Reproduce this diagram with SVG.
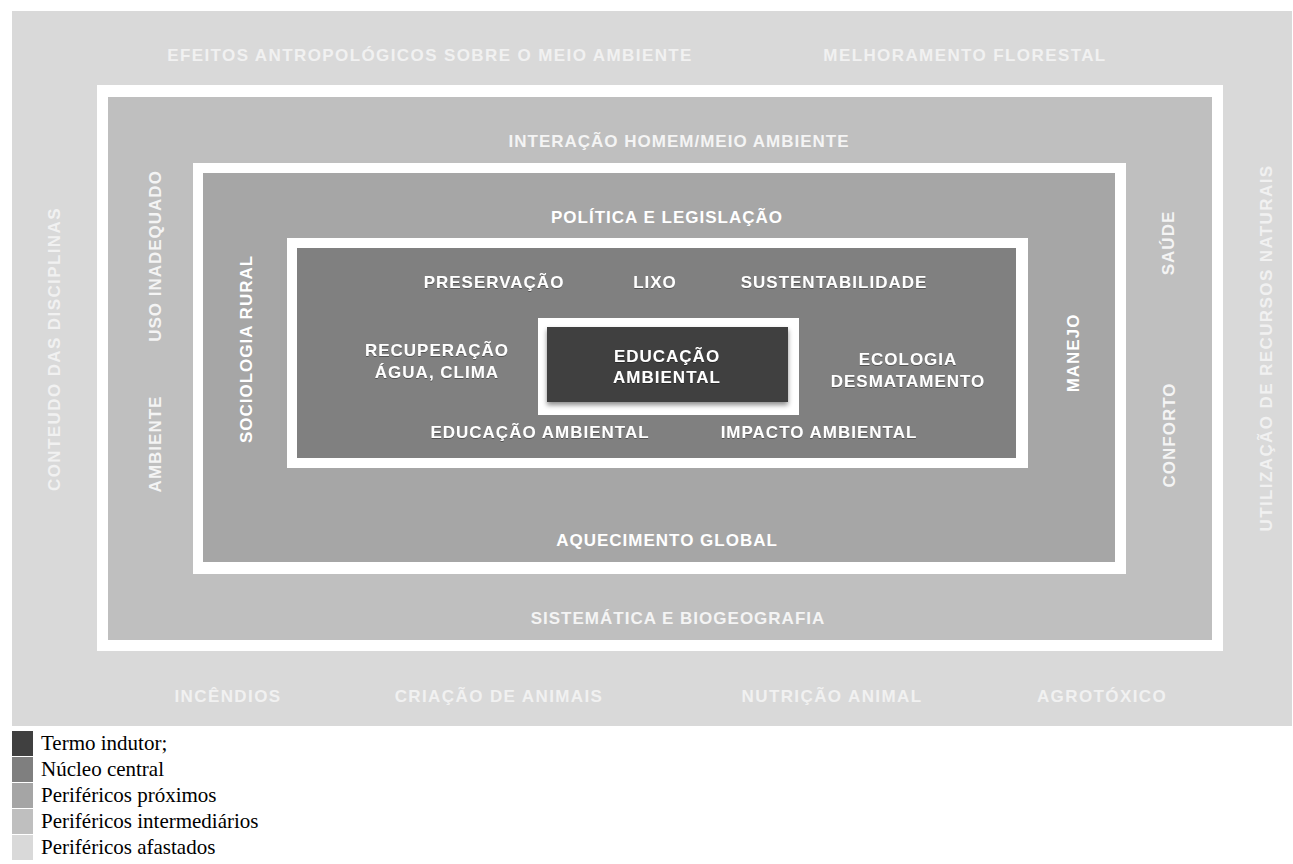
<svg xmlns="http://www.w3.org/2000/svg" width="1293" height="864" viewBox="0 0 1293 864">
  <defs>
    <style>
      .lbl { font-family: "Liberation Sans", Arial, sans-serif; font-weight: bold; font-size: 17px; letter-spacing: 1px; text-anchor: middle; }
      .far { fill: #f1f1f1; letter-spacing: 1.4px; }
      .mid { fill: #f4f4f4; }
      .near { fill: #ffffff; }
      .core { fill: #ffffff; }
      .leg { font-family: "Liberation Serif", "Times New Roman", serif; font-size: 21px; fill: #000000; }
    </style>
    <filter id="txtShadow" x="-10%" y="-30%" width="120%" height="160%">
      <feDropShadow dx="0" dy="1" stdDeviation="0.7" flood-color="#000000" flood-opacity="0.35"/>
    </filter>
    <filter id="boxShadow" x="-10%" y="-20%" width="120%" height="150%">
      <feDropShadow dx="0" dy="3" stdDeviation="2.5" flood-color="#000000" flood-opacity="0.45"/>
    </filter>
  </defs>

  <rect width="1293" height="864" fill="#ffffff"/>

  <!-- Layer 1: distant peripheral terms -->
  <g id="perifericos-afastados">
    <rect x="12" y="11" width="1280" height="715" fill="#d9d9d9"/>
    <text class="lbl far" x="430" y="61">EFEITOS ANTROPOLÓGICOS SOBRE O MEIO AMBIENTE</text>
    <text class="lbl far" x="965" y="61">MELHORAMENTO FLORESTAL</text>
    <text class="lbl far" x="228" y="702">INCÊNDIOS</text>
    <text class="lbl far" x="499" y="702">CRIAÇÃO DE ANIMAIS</text>
    <text class="lbl far" x="832" y="702">NUTRIÇÃO ANIMAL</text>
    <text class="lbl far" x="1102" y="702">AGROTÓXICO</text>
    <text class="lbl far" transform="translate(54,349) rotate(-90)" x="0" y="6">CONTEUDO DAS DISCIPLINAS</text>
    <text class="lbl far" transform="translate(1266,348) rotate(-90)" x="0" y="6">UTILIZAÇÃO DE RECURSOS NATURAIS</text>
  </g>

  <!-- Layer 2: intermediate peripheral terms -->
  <g id="perifericos-intermediarios">
    <rect x="97" y="85" width="1126" height="566" fill="#ffffff"/>
    <rect x="108" y="97" width="1104" height="543" fill="#bfbfbf"/>
    <text class="lbl mid" x="679" y="147">INTERAÇÃO HOMEM/MEIO AMBIENTE</text>
    <text class="lbl mid" x="678" y="624">SISTEMÁTICA E BIOGEOGRAFIA</text>
    <text class="lbl mid" transform="translate(155,256) rotate(-90)" x="0" y="6">USO INADEQUADO</text>
    <text class="lbl mid" transform="translate(155,444) rotate(-90)" x="0" y="6">AMBIENTE</text>
    <text class="lbl mid" transform="translate(1168,243) rotate(-90)" x="0" y="6">SAÚDE</text>
    <text class="lbl mid" transform="translate(1169,435) rotate(-90)" x="0" y="6">CONFORTO</text>
  </g>

  <!-- Layer 3: near peripheral terms -->
  <g id="perifericos-proximos">
    <rect x="193" y="163" width="933" height="411" fill="#ffffff"/>
    <rect x="203" y="173" width="912" height="389" fill="#a6a6a6"/>
    <text class="lbl near" x="667" y="223">POLÍTICA E LEGISLAÇÃO</text>
    <text class="lbl near" x="667" y="546">AQUECIMENTO GLOBAL</text>
    <text class="lbl near" transform="translate(246,349) rotate(-90)" x="0" y="6">SOCIOLOGIA RURAL</text>
    <text class="lbl near" transform="translate(1073,353) rotate(-90)" x="0" y="6">MANEJO</text>
  </g>

  <!-- Layer 4: central core -->
  <g id="nucleo-central">
    <rect x="287" y="238" width="741" height="230" fill="#ffffff"/>
    <rect x="297" y="248" width="719" height="210" fill="#808080"/>
    <g filter="url(#txtShadow)">
      <text class="lbl core" x="494" y="288">PRESERVAÇÃO</text>
      <text class="lbl core" x="655" y="288">LIXO</text>
      <text class="lbl core" x="834" y="288">SUSTENTABILIDADE</text>
      <text class="lbl core" x="437" y="356">RECUPERAÇÃO</text>
      <text class="lbl core" x="437" y="378">ÁGUA, CLIMA</text>
      <text class="lbl core" x="908" y="365">ECOLOGIA</text>
      <text class="lbl core" x="908" y="387">DESMATAMENTO</text>
      <text class="lbl core" x="540" y="438">EDUCAÇÃO AMBIENTAL</text>
      <text class="lbl core" x="819" y="438">IMPACTO AMBIENTAL</text>
    </g>
  </g>

  <!-- Inducing term -->
  <g id="termo-indutor">
    <rect x="538" y="318" width="261" height="97" fill="#ffffff"/>
    <rect x="547" y="327" width="241" height="75" fill="#404040" filter="url(#boxShadow)"/>
    <g filter="url(#txtShadow)">
      <text class="lbl core" x="667" y="362">EDUCAÇÃO</text>
      <text class="lbl core" x="667" y="383">AMBIENTAL</text>
    </g>
  </g>

  <!-- Colour key -->
  <g id="legenda">
    <rect x="12" y="731" width="21" height="25" fill="#404040"/>
    <rect x="12" y="757" width="21" height="25" fill="#7f7f7f"/>
    <rect x="12" y="783" width="21" height="25" fill="#a5a5a5"/>
    <rect x="12" y="809" width="21" height="25" fill="#bfbfbf"/>
    <rect x="12" y="835" width="21" height="25" fill="#d9d9d9"/>
    <text class="leg" x="41" y="750">Termo indutor;</text>
    <text class="leg" x="41" y="776">Núcleo central</text>
    <text class="leg" x="41" y="802">Periféricos próximos</text>
    <text class="leg" x="41" y="828">Periféricos intermediários</text>
    <text class="leg" x="41" y="854">Periféricos afastados</text>
  </g>

  <g id="connectors"/>
</svg>
